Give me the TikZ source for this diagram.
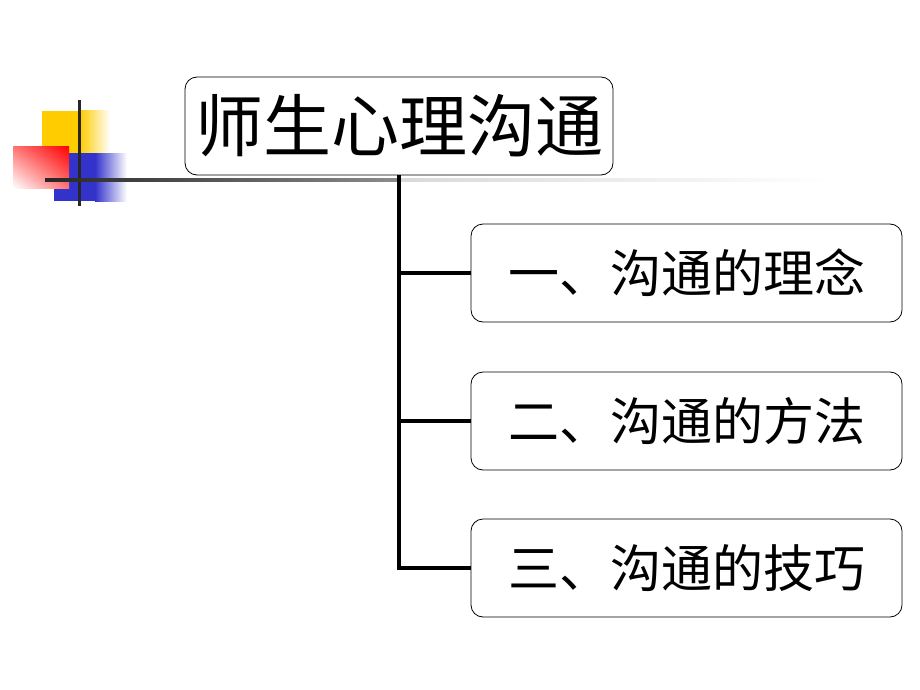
\documentclass[tikz,border=0pt]{standalone}
\usepackage{fontspec}
\newfontfamily\cjk{Noto Sans CJK SC}
\usetikzlibrary{shadings}

\tikzset{
  titlebox/.style={draw=black, line width=0.8pt, rounded corners=12pt, fill=white, inner sep=0pt,
    minimum width=428pt, minimum height=98pt, font=\cjk\fontsize{68}{72}\selectfont},
  itembox/.style={draw=black, line width=0.8pt, rounded corners=12pt, fill=white, inner sep=0pt,
    minimum width=431pt, minimum height=98pt, font=\cjk\fontsize{51}{55}\selectfont},
  link/.style={line width=4pt, color=black}
}

\begin{document}
\begin{tikzpicture}[x=1pt,y=1pt,yscale=-1]
  \useasboundingbox (0,0) rectangle (920,690);

  %Shape: yellow square
  \fill [color={rgb,255:red,255;green,204;blue,0}] (42,111) rectangle (80,153);
  \shade [left color={rgb,255:red,255;green,204;blue,0}, right color=white] (80,111) rectangle (110,153);
  %Shape: blue square
  \fill [color={rgb,255:red,51;green,51;blue,204}] (54,153) rectangle (95,201);
  \shade [left color={rgb,255:red,51;green,51;blue,204}, right color=white] (95,153) rectangle (127,201);
  %Shape: red square
  \shade [upper right=red, upper left=red!55, lower right=red!55, lower left=white] (13,146) rectangle (69,188);
  %Straight Lines: cross
  \draw [line width=3pt, color=black!85] (79,100) -- (79,206);
  \shade [left color=black!85, right color=black!45] (45,178.5) rectangle (400,181.5);
  \shade [left color=black!15, right color=white] (400,178.5) rectangle (830,181.5);

  % Text Node
  \node [titlebox] (title) at (399,126) {师生心理沟通};
  % Text Node
  \node [itembox] (c1) at (686.5,273) {一、沟通的理念};
  % Text Node
  \node [itembox] (c2) at (686.5,421) {二、沟通的方法};
  % Text Node
  \node [itembox] (c3) at (686.5,568) {三、沟通的技巧};

  %Straight Lines: tree
  \draw [link] (title.south) |- (c3.west);
  \foreach \c in {c1,c2}
    \draw [link] (\c.west) -- (\c.west -| title.south);
\end{tikzpicture}
\end{document}
